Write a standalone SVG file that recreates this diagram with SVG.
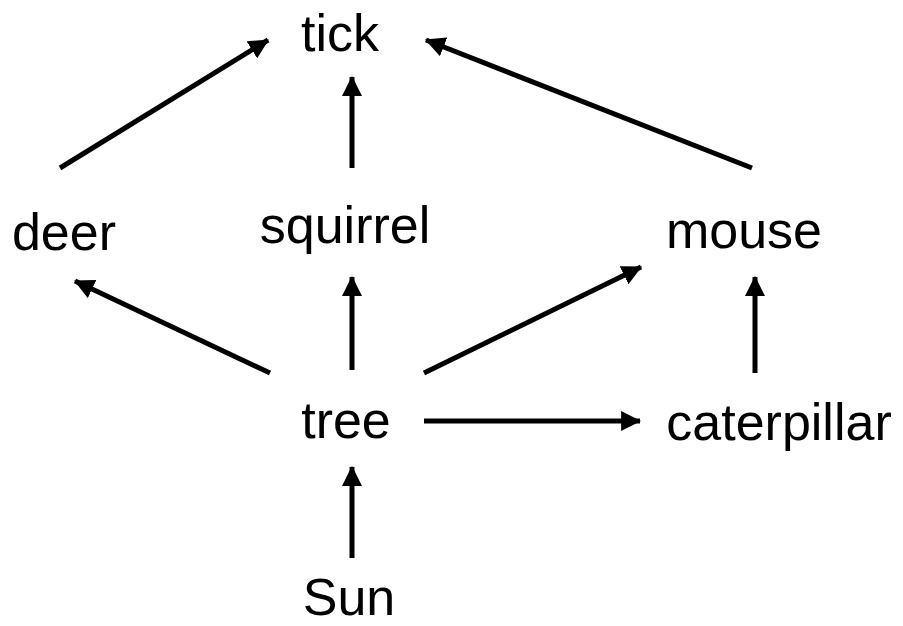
<svg xmlns="http://www.w3.org/2000/svg" width="903" height="626" viewBox="0 0 903 626">
<style>
text{font-family:"Liberation Sans",Arial,sans-serif;font-size:52px;fill:#000;text-anchor:middle}
.c line{stroke:#000;stroke-width:5;marker-end:url(#a)}
</style>
<defs>
<marker id="a" markerUnits="userSpaceOnUse" markerWidth="20" markerHeight="20" viewBox="0 0 18 18" refX="17" refY="9" orient="auto">
<path d="M0,0 L18,9 L0,18 Z" fill="#000"/>
</marker>
</defs>
<rect width="903" height="626" fill="#fff"/>
<g class="c" id="connectors">
<line x1="60" y1="168" x2="268" y2="40"/>
<line x1="352" y1="168" x2="352" y2="77"/>
<line x1="752" y1="168" x2="426" y2="40"/>
<line x1="270" y1="373" x2="75" y2="281"/>
<line x1="352" y1="370" x2="352" y2="277"/>
<line x1="424" y1="373" x2="641" y2="267"/>
<line x1="424" y1="421" x2="640" y2="421"/>
<line x1="755" y1="373" x2="755" y2="277"/>
<line x1="352" y1="558" x2="352" y2="467"/>
</g>
<g id="tick"><text x="340" y="51">tick</text></g>
<g id="deer"><text x="64" y="250">deer</text></g>
<g id="squirrel"><text x="345" y="243">squirrel</text></g>
<g id="mouse"><text x="744" y="248">mouse</text></g>
<g id="tree"><text x="346" y="438">tree</text></g>
<g id="caterpillar"><text x="779" y="440">caterpillar</text></g>
<g id="Sun"><text x="349" y="615">Sun</text></g>
</svg>
